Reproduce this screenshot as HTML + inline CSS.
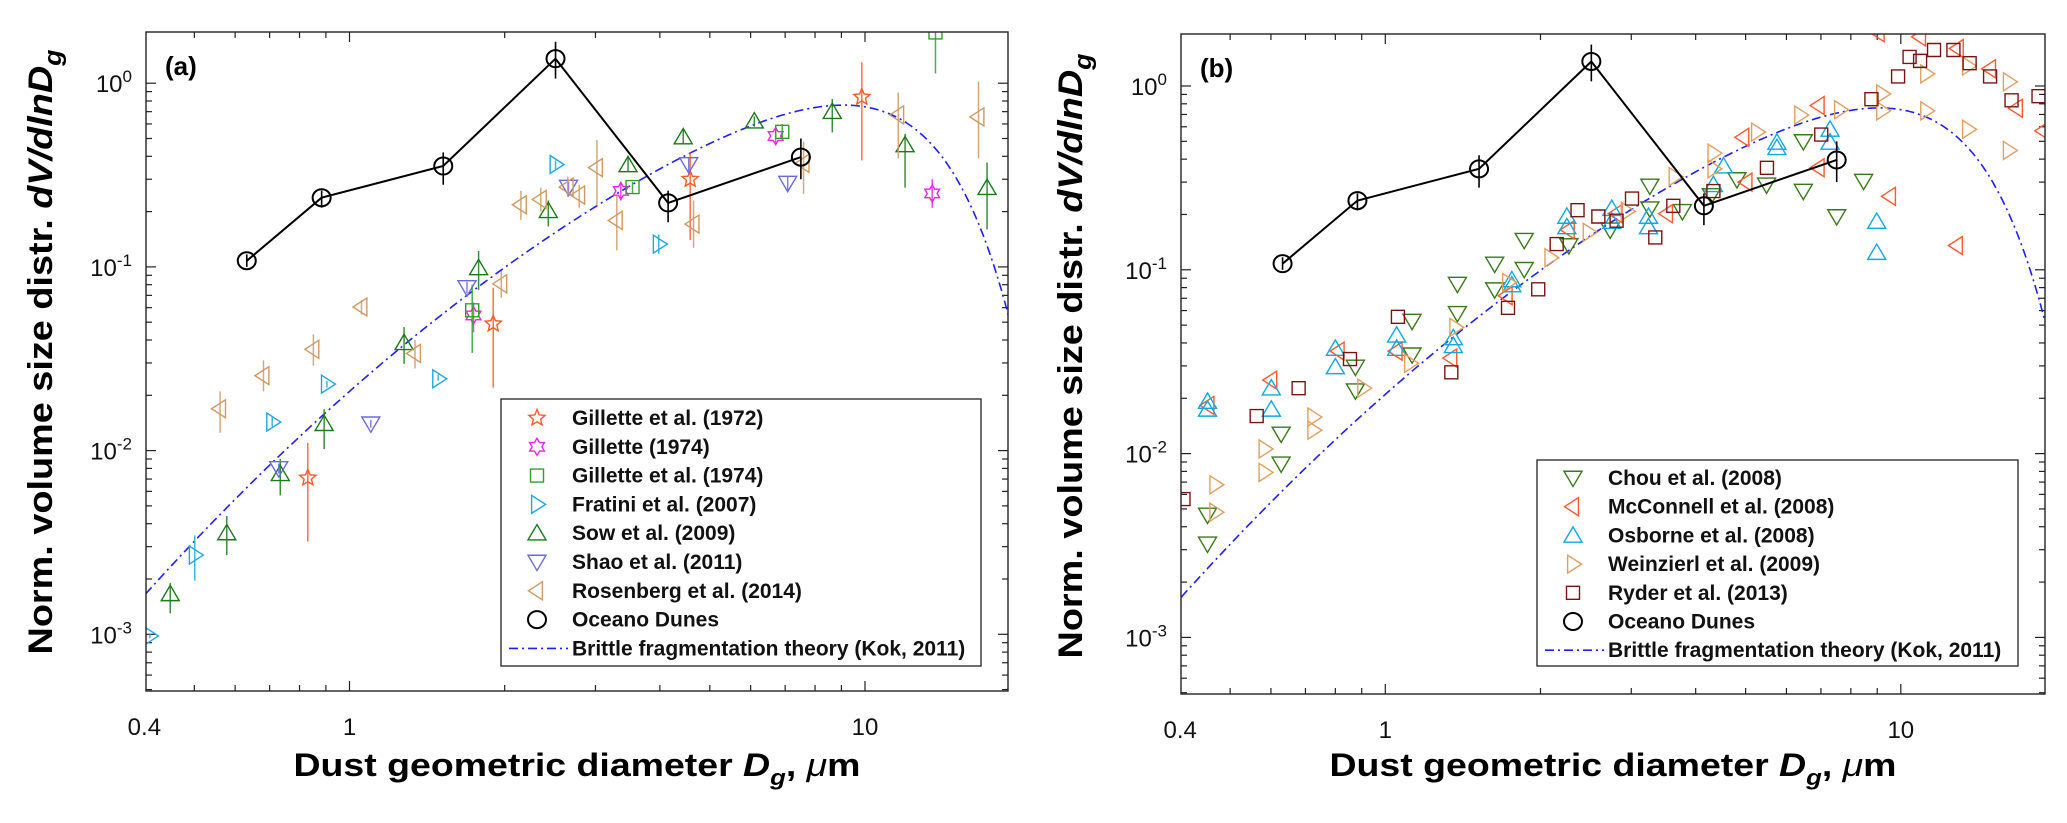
<!DOCTYPE html>
<html><head><meta charset="utf-8">
<style>
html,body{margin:0;padding:0;background:#fff;}
svg{display:block;font-family:"Liberation Sans",Arial,sans-serif;}
</style></head>
<body>
<svg id="fig" width="2067" height="823" viewBox="0 0 2067 823" xmlns="http://www.w3.org/2000/svg">
<rect x="0" y="0" width="2067" height="823" fill="#fff"/>
</svg>
<script>
// ---------- data: Oceano Dunes (both panels) ----------
const oceanoX = [0.632, 0.883, 1.52, 2.51, 4.15, 7.51];
const oceanoY = [0.108, 0.238, 0.354, 1.36, 0.223, 0.396];
const oceanoLo = [0.100, 0.21, 0.28, 1.06, 0.175, 0.30];
const oceanoHi = [0.117, 0.26, 0.42, 1.68, 0.26, 0.50];

// ---------- panel (a) ----------
const gil72X = [0.83, 1.90, 4.58, 9.86];
const gil72Y = [0.0071, 0.049, 0.30, 0.84];
const gil72Lo = [0.0032, 0.022, 0.14, 0.38];
const gil72Hi = [0.011, 0.077, 0.42, 1.3];

const gil74X = [1.74, 3.36, 6.71, 13.5];
const gil74Y = [0.0544, 0.259, 0.516, 0.251];
const gil74Lo = [0.044, 0.23, 0.46, 0.21];
const gil74Hi = [0.064, 0.29, 0.58, 0.30];

const gil74bX = [1.73, 3.54, 6.91, 13.7];
const gil74bY = [0.058, 0.272, 0.544, 1.89];
const gil74bLo = [0.034, 0.25, 0.50, 1.13];
const gil74bHi = [0.080, 0.29, 0.60, 1.95];

const fratX = [0.41, 0.501, 0.708, 0.904, 1.486, 2.51, 3.98];
const fratY = [0.00098, 0.0027, 0.0143, 0.023, 0.0246, 0.361, 0.133];
const fratLo = [0.00095, 0.00196, 0.0135, 0.022, 0.024, 0.34, 0.118];
const fratHi = [0.00101, 0.00345, 0.0152, 0.024, 0.026, 0.38, 0.15];

const sowX = [0.449, 0.578, 0.734, 0.893, 1.276, 1.78, 2.43, 3.47, 4.44, 6.10, 8.64, 11.96, 17.25];
const sowY = [0.00166, 0.00356, 0.00748, 0.0140, 0.0386, 0.0987, 0.202, 0.359, 0.509, 0.621, 0.70, 0.461, 0.27];
const sowLo = [0.0013, 0.0027, 0.0057, 0.0102, 0.0297, 0.075, 0.166, 0.33, 0.47, 0.58, 0.54, 0.27, 0.16];
const sowHi = [0.0019, 0.0044, 0.009, 0.0168, 0.047, 0.122, 0.23, 0.40, 0.56, 0.66, 0.82, 0.53, 0.37];

const shaoX = [0.729, 1.10, 1.69, 2.66, 4.55, 7.08];
const shaoY = [0.008, 0.0140, 0.0773, 0.272, 0.361, 0.286];
const shaoLo = [0.0075, 0.0133, 0.072, 0.25, 0.33, 0.26];
const shaoHi = [0.0085, 0.0147, 0.083, 0.29, 0.39, 0.31];

const rosX = [0.561, 0.681, 0.851, 1.055, 1.34, 1.97, 2.15, 2.35, 2.65, 2.79, 3.02, 3.30, 4.65, 7.60, 11.6, 16.6];
const rosY = [0.0169, 0.0256, 0.0356, 0.0605, 0.0338, 0.0809, 0.218, 0.233, 0.272, 0.246, 0.347, 0.179, 0.171, 0.366, 0.672, 0.655];
const rosLo = [0.0125, 0.021, 0.029, 0.055, 0.028, 0.068, 0.18, 0.20, 0.24, 0.21, 0.216, 0.123, 0.127, 0.25, 0.39, 0.39];
const rosHi = [0.021, 0.031, 0.043, 0.066, 0.040, 0.095, 0.26, 0.27, 0.31, 0.28, 0.49, 0.245, 0.23, 0.48, 0.89, 1.02];

// ---------- panel (b) ----------
const chouX = [0.452, 0.452, 0.628, 0.628, 0.875, 0.875, 1.127, 1.127, 1.38, 1.38, 1.63, 1.63, 1.86, 1.86, 2.27, 2.73, 3.26, 3.26, 3.77, 4.29, 4.81, 5.49, 6.47, 6.47, 7.51, 8.47];
const chouY = [0.00464, 0.00323, 0.0128, 0.0088, 0.0296, 0.022, 0.0526, 0.0345, 0.0836, 0.058, 0.1076, 0.078, 0.145, 0.1007, 0.1356, 0.165, 0.286, 0.215, 0.208, 0.254, 0.31, 0.29, 0.268, 0.499, 0.195, 0.304];

const mccX = [0.454, 0.601, 0.812, 1.052, 1.343, 1.72, 2.27, 2.81, 3.52, 5.02, 4.95, 6.93, 6.93, 9.53, 9.06, 10.9, 12.85, 12.9, 14.9, 16.8, 18.9];
const mccY = [0.0183, 0.0251, 0.0361, 0.0361, 0.0331, 0.0723, 0.165, 0.202, 0.202, 0.30, 0.526, 0.359, 0.783, 0.251, 1.95, 1.85, 0.1356, 1.6, 1.24, 0.757, 0.57];

const osbX = [0.452, 0.452, 0.601, 0.601, 0.80, 0.80, 1.052, 1.052, 1.355, 1.355, 1.76, 1.76, 2.25, 2.25, 2.75, 2.75, 3.24, 3.24, 4.33, 4.53, 5.75, 5.75, 7.29, 7.29, 8.98, 8.98];
const osbY = [0.0192, 0.0174, 0.0227, 0.0174, 0.0373, 0.0296, 0.044, 0.0373, 0.0426, 0.0386, 0.088, 0.0826, 0.195, 0.171, 0.215, 0.183, 0.195, 0.171, 0.29, 0.366, 0.493, 0.461, 0.58, 0.493, 0.183, 0.124];

const weinX = [0.468, 0.468, 0.583, 0.583, 0.725, 0.725, 0.906, 1.117, 1.367, 1.73, 2.09, 2.48, 2.94, 3.64, 4.33, 4.33, 5.26, 6.38, 7.62, 9.2, 9.2, 11.2, 11.2, 13.5, 13.5, 16.2, 16.2];
const weinY = [0.00677, 0.0048, 0.0106, 0.0079, 0.0158, 0.0134, 0.0227, 0.031, 0.0486, 0.0853, 0.1164, 0.16, 0.208, 0.321, 0.431, 0.354, 0.562, 0.695, 0.743, 0.906, 0.733, 1.164, 0.733, 1.285, 0.581, 1.054, 0.446];

const ryderX = [0.406, 0.563, 0.679, 0.854, 1.058, 1.343, 1.73, 1.98, 2.15, 2.36, 2.59, 2.81, 3.01, 3.34, 3.62, 4.33, 5.5, 7.01, 8.77, 9.88, 10.4, 10.9, 11.6, 12.65, 13.6, 14.9, 16.4, 18.5];
const ryderY = [0.00566, 0.016, 0.0227, 0.0327, 0.0555, 0.0277, 0.0621, 0.0783, 0.138, 0.211, 0.195, 0.185, 0.244, 0.15, 0.223, 0.268, 0.359, 0.544, 0.848, 1.127, 1.44, 1.37, 1.57, 1.57, 1.33, 1.127, 0.836, 0.88];

// axis tick labels
const xTickVals = [0.4, 1, 10];
const xTickLabels = ["0.4", "1", "10"];
const yTickExps = [-3, -2, -1, 0];

const legendA = ["Gillette et al. (1972)", "Gillette (1974)", "Gillette et al. (1974)", "Fratini et al. (2007)", "Sow et al. (2009)", "Shao et al. (2011)", "Rosenberg et al. (2014)", "Oceano Dunes", "Brittle fragmentation theory (Kok, 2011)"];
const legendB = ["Chou et al. (2008)", "McConnell et al. (2008)", "Osborne et al. (2008)", "Weinzierl et al. (2009)", "Ryder et al. (2013)", "Oceano Dunes", "Brittle fragmentation theory (Kok, 2011)"];

// ---------- drawing ----------
const NS = "http://www.w3.org/2000/svg";
const svg = document.getElementById("fig");
function mk(tag, attrs, parent) {
  const e = document.createElementNS(NS, tag);
  for (const k in attrs) e.setAttribute(k, attrs[k]);
  (parent || svg).appendChild(e);
  return e;
}
function erf(x) {
  const s = x < 0 ? -1 : 1; x = Math.abs(x);
  const t = 1 / (1 + 0.3275911 * x);
  const y = 1 - (((((1.061405429 * t - 1.453152027) * t) + 1.421413741) * t - 0.284496736) * t + 0.254829592) * t * Math.exp(-x * x);
  return s * y;
}
function kok(D) {
  return D / 12.62 * (1 + erf(Math.log(D / 3.4) / (Math.SQRT2 * Math.log(3.0)))) * Math.exp(-Math.pow(D / 12, 3));
}

function markerPath(type, cx, cy, s) {
  const r = s;
  if (type === "up") return `M${cx},${cy - r * 0.95} L${cx + r},${cy + r * 0.75} L${cx - r},${cy + r * 0.75} Z`;
  if (type === "down") return `M${cx},${cy + r * 0.95} L${cx + r},${cy - r * 0.75} L${cx - r},${cy - r * 0.75} Z`;
  if (type === "right") return `M${cx + r * 0.95},${cy} L${cx - r * 0.6},${cy - r} L${cx - r * 0.6},${cy + r} Z`;
  if (type === "left") return `M${cx - r * 0.95},${cy} L${cx + r * 0.6},${cy - r} L${cx + r * 0.6},${cy + r} Z`;
  if (type === "square") { const h = r * 0.65; return `M${cx - h},${cy - h} h${2 * h} v${2 * h} h${-2 * h} Z`; }
  if (type === "star") {
    let d = ""; const R = r * 0.85, ri = R * 0.45;
    for (let i = 0; i < 10; i++) { const a = -Math.PI / 2 + i * Math.PI / 5; const rr = i % 2 ? ri : R; d += (i ? "L" : "M") + (cx + rr * Math.cos(a)).toFixed(1) + "," + (cy + rr * Math.sin(a)).toFixed(1); }
    return d + "Z";
  }
  if (type === "hex") {
    let d = ""; const R = r * 0.85, ri = R * 0.58;
    for (let i = 0; i < 12; i++) { const a = -Math.PI / 2 + i * Math.PI / 6; const rr = i % 2 ? ri : R; d += (i ? "L" : "M") + (cx + rr * Math.cos(a)).toFixed(1) + "," + (cy + rr * Math.sin(a)).toFixed(1); }
    return d + "Z";
  }
  return "";
}
function marker(g, type, cx, cy, color, s) {
  if (type === "circle") {
    return mk("ellipse", { cx: cx, cy: cy, rx: 9, ry: 8.5, fill: "none", stroke: color, "stroke-width": 2 }, g);
  }
  return mk("path", { d: markerPath(type, cx, cy, s || 9), fill: "none", stroke: color, "stroke-width": 1.4 }, g);
}

function drawPanel(P) {
  const X = v => P.x0 + P.dec * Math.log10(v);
  const Y = v => P.y0 - P.ydec * Math.log10(v);
  const g = mk("g", {});
  
  
  const clip = mk("clipPath", { id: "clip-" + P.id }, g);
  mk("rect", { x: P.L, y: P.T, width: P.R - P.L, height: P.B - P.T }, clip);

  const ticks = mk("g", { stroke: "#222", "stroke-width": 1.2 }, g);
  
  
  const xt = [];
  for (let e = -1; e <= 1; e++) for (let m = 1; m <= 9; m++) { const v = m * Math.pow(10, e); const px = X(v); if (px >= P.L - 0.5 && px <= P.R + 0.5) xt.push([px, m === 1]); }
  xt.forEach(([px, maj]) => {
    const l = maj ? 10 : 6;
    mk("line", { x1: px, y1: P.B, x2: px, y2: P.B - l }, ticks);
    mk("line", { x1: px, y1: P.T, x2: px, y2: P.T + l }, ticks);
  });
  for (let e = -4; e <= 0; e++) for (let m = 1; m <= 9; m++) {
    const v = m * Math.pow(10, e); const py = Y(v);
    if (py >= P.T && py <= P.B) {
      const l = m === 1 ? 10 : 6;
      mk("line", { x1: P.L, y1: py, x2: P.L + l, y2: py }, ticks);
      mk("line", { x1: P.R, y1: py, x2: P.R - l, y2: py }, ticks);
    }
  }
  xTickVals.forEach((v, i) => {
    const t = mk("text", { x: X(v), y: P.B + 44, "font-size": 24, "text-anchor": "middle", fill: "#111" }, g);
    t.textContent = xTickLabels[i];
    
    
  });
  yTickExps.forEach(e => {
    const t = mk("text", { x: P.L - 14, y: Y(Math.pow(10, e)) + 9, "font-size": 24, "text-anchor": "end", fill: "#111" }, g);
    const a = mk("tspan", {}, t); a.textContent = "10";
    const b = mk("tspan", { "font-size": 17, dy: -10 }, t); b.textContent = e === 0 ? "0" : String(e);
    
    
  });

  const data = mk("g", { "clip-path": "url(#clip-" + P.id + ")" }, g);
  
  

  let d = "";
  for (let i = 0; i <= 300; i++) { const D = Math.pow(10, Math.log10(0.38) + i * (Math.log10(21) - Math.log10(0.38)) / 300); d += (i ? "L" : "M") + X(D).toFixed(1) + "," + Y(kok(D)).toFixed(1); }
  const th = mk("path", { d: d, fill: "none", stroke: "#1f1fff", "stroke-width": 1.6, "stroke-dasharray": "9 4 2 4" }, data);
  
  

  P.series.forEach(S => {
    const sg = mk("g", {}, data);
    
    
    S.x.forEach((xv, i) => {
      if (S.lo) {
        const eb = mk("line", { x1: X(xv), x2: X(xv), y1: Y(S.lo[i]), y2: Y(S.hi[i]), stroke: S.color, "stroke-width": 1.5, opacity: 0.85 }, sg);
        
        
      }
      const m = marker(sg, S.type, X(xv), Y(S.y[i]), S.color, S.size);
      
      
    });
  });

  const og = mk("g", {}, data);
  
  
  let od = "";
  oceanoX.forEach((xv, i) => { od += (i ? "L" : "M") + X(xv).toFixed(1) + "," + Y(oceanoY[i]).toFixed(1); });
  const ol = mk("path", { d: od, fill: "none", stroke: "#000", "stroke-width": 2 }, og);
  
  
  oceanoX.forEach((xv, i) => {
    const eb = mk("line", { x1: X(xv), x2: X(xv), y1: Y(oceanoLo[i]), y2: Y(oceanoHi[i]), stroke: "#000", "stroke-width": 1.6 }, og);
    
    
    const m = marker(og, "circle", X(xv), Y(oceanoY[i]), "#000");
    
    
  });

  const box = mk("rect", { x: P.L, y: P.T, width: P.R - P.L, height: P.B - P.T, fill: "none", stroke: "#222", "stroke-width": 1.4 }, g);
  
  

  const pl = mk("text", { x: P.L + 19, y: P.T + 43, "font-size": 26, "font-weight": "bold" }, g);
  pl.textContent = P.label;
  
  

  const xl = mk("text", { x: P.xlx, y: 776, "font-size": 32, "font-weight": "bold", "text-anchor": "middle", textLength: 567, lengthAdjust: "spacingAndGlyphs" }, g);
  xl.innerHTML = 'Dust geometric diameter <tspan font-style="italic">D</tspan><tspan font-style="italic" font-size="22" dy="9">g</tspan><tspan dy="-9">, </tspan><tspan font-style="italic" font-weight="normal">μ</tspan>m';
  
  
  const yl = mk("text", { x: 0, y: 0, "font-size": 34, "font-weight": "bold", "text-anchor": "middle", transform: `translate(${P.ylx},${P.yly}) rotate(-90)`, textLength: 605, lengthAdjust: "spacingAndGlyphs" }, g);
  yl.innerHTML = 'Norm. volume size distr. <tspan font-style="italic">dV/dlnD</tspan><tspan font-style="italic" font-size="24" dy="9">g</tspan>';
  
  

  const lg = mk("g", {}, g);
  
  
  const lb = mk("rect", { x: P.lgL, y: P.lgT, width: P.lgR - P.lgL, height: P.lgB - P.lgT, fill: "#fff", stroke: "#222", "stroke-width": 1.3 }, lg);
  
  
  P.legend.forEach((name, i) => {
    const yy = P.lgY0 + i * P.lgStep;
    const entry = mk("g", {}, lg);
    
    
    if (i < P.series.length) marker(entry, P.series[i].type, P.lgMx, yy, P.series[i].color, P.series[i].size);
    else if (i === P.series.length) marker(entry, "circle", P.lgMx, yy, "#000");
    else mk("line", { x1: P.lgMx - 28, x2: P.lgTx - 4, y1: yy, y2: yy, stroke: "#1f1fff", "stroke-width": 1.6, "stroke-dasharray": "9 4 2 4" }, entry);
    const t = mk("text", { x: P.lgTx, y: yy + 7, "font-size": 21, "font-weight": "bold", fill: "#111" }, entry);
    t.textContent = name;
  });
}

drawPanel({
  id: "panel-a", label: "(a)", x0: 349.5, dec: 515.5, y0: 83.2, ydec: 183.7,
  L: 146, R: 1008, T: 32, B: 691, xlx: 577, ylx: 52, yly: 352,
  lgL: 501, lgR: 981, lgT: 399, lgB: 666, lgY0: 418, lgStep: 28.8, lgMx: 537, lgTx: 572,
  legend: legendA,
  series: [
    { name: "gillette-1972-series", type: "star", color: "#ff5a28", x: gil72X, y: gil72Y, lo: gil72Lo, hi: gil72Hi, size: 10 },
    { name: "gillette-1974-series", type: "hex", color: "#ee22ee", x: gil74X, y: gil74Y, lo: gil74Lo, hi: gil74Hi, size: 10 },
    { name: "gillette-et-al-1974-series", type: "square", color: "#2ca02c", x: gil74bX, y: gil74bY, lo: gil74bLo, hi: gil74bHi, size: 10 },
    { name: "fratini-2007-series", type: "right", color: "#1ea8e0", x: fratX, y: fratY, lo: fratLo, hi: fratHi, size: 9 },
    { name: "sow-2009-series", type: "up", color: "#1a7a1a", x: sowX, y: sowY, lo: sowLo, hi: sowHi, size: 9 },
    { name: "shao-2011-series", type: "down", color: "#6a6ae0", x: shaoX, y: shaoY, lo: shaoLo, hi: shaoHi, size: 9 },
    { name: "rosenberg-2014-series", type: "left", color: "#d09a62", x: rosX, y: rosY, lo: rosLo, hi: rosHi, size: 9 }
  ]
});
drawPanel({
  id: "panel-b", label: "(b)", x0: 1385.3, dec: 515.5, y0: 86, ydec: 183.8,
  L: 1181, R: 2045, T: 34, B: 694, xlx: 1613, ylx: 1082, yly: 356,
  lgL: 1537, lgR: 2018, lgT: 460, lgB: 666, lgY0: 478, lgStep: 28.7, lgMx: 1573, lgTx: 1608,
  legend: legendB,
  series: [
    { name: "chou-2008-series", type: "down", color: "#3a7a1a", x: chouX, y: chouY, size: 9 },
    { name: "mcconnell-2008-series", type: "left", color: "#ff5a30", x: mccX, y: mccY, size: 9 },
    { name: "osborne-2008-series", type: "up", color: "#10a8e0", x: osbX, y: osbY, size: 9 },
    { name: "weinzierl-2009-series", type: "right", color: "#e0a060", x: weinX, y: weinY, size: 9 },
    { name: "ryder-2013-series", type: "square", color: "#7a1414", x: ryderX, y: ryderY, size: 10 }
  ]
});
</script>
</body></html>
